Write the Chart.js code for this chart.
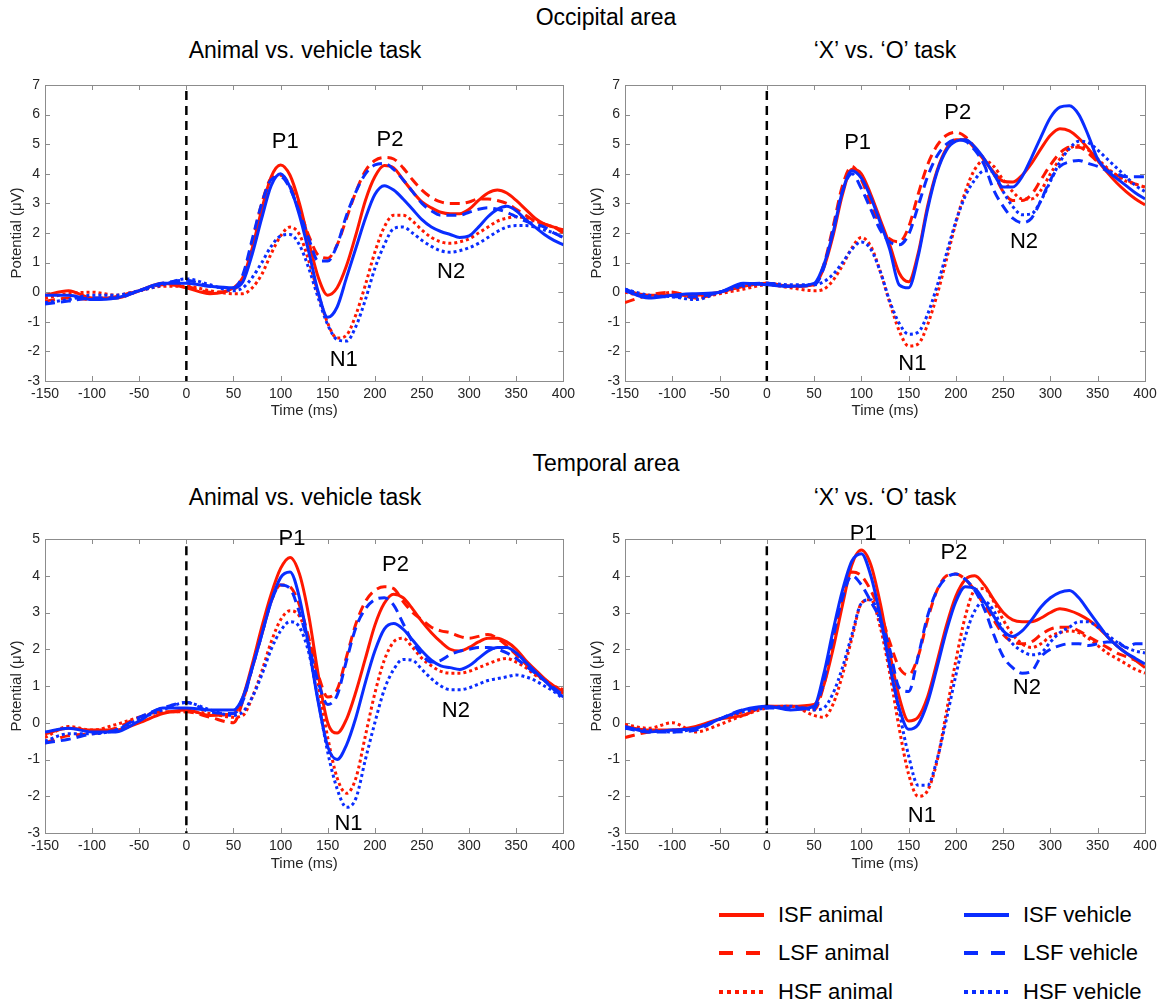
<!DOCTYPE html>
<html>
<head>
<meta charset="utf-8">
<script src="https://cdn.jsdelivr.net/npm/chart.js@4.4.1/dist/chart.umd.min.js"></script>
<style>
  body { margin: 0; width: 1165px; height: 1003px; background: #fff; position: relative; overflow: hidden;
         font-family: "Liberation Sans", Arial, Helvetica, sans-serif; }
  canvas { position: absolute; }
  .title { position: absolute; transform: translate(-50%, -50%); white-space: nowrap; font-size: 23px; color: #000; }
  .leg { position: absolute; height: 30px; display: flex; align-items: center; font-size: 22px; color: #000; white-space: nowrap; }
  .leg svg { margin-right: 14px; }
</style>
</head>
<body>
<div class="title" style="left:606px; top:17px">Occipital area</div>
<div class="title" style="left:305px; top:50px">Animal vs. vehicle task</div>
<div class="title" style="left:885px; top:50px">‘X’ vs. ‘O’ task</div>
<div class="title" style="left:606px; top:463px">Temporal area</div>
<div class="title" style="left:305px; top:497px">Animal vs. vehicle task</div>
<div class="title" style="left:885px; top:497px">‘X’ vs. ‘O’ task</div>

<canvas id="occAnimal" width="580" height="360" style="left:0; top:60px"></canvas>
<canvas id="occXO" width="585" height="360" style="left:580px; top:60px"></canvas>
<canvas id="tmpAnimal" width="580" height="360" style="left:0; top:513px"></canvas>
<canvas id="tmpXO" width="585" height="360" style="left:580px; top:513px"></canvas>
<div id="legend"></div>

<script>
// time samples (ms), shared by every waveform
const times = [-150, -125, -100, -75, -50, -25, 0, 25, 50, 60, 70, 80, 90, 100, 110, 120, 130, 140, 150,
  160, 170, 180, 190, 200, 210, 220, 230, 240, 250, 260, 270, 280, 290, 300, 310, 320, 330, 340, 350,
  360, 370, 380, 390, 400];

const seriesNames = ['ISF animal', 'LSF animal', 'HSF animal', 'ISF vehicle', 'LSF vehicle', 'HSF vehicle'];

// occipital area, animal vs. vehicle task
const occAvIsfAnimal = [-0.1, 0.05, -0.2, -0.2, 0.05, 0.3, 0.15, -0.05, 0.15, 0.5, 1.5, 2.8, 3.9, 4.3, 3.95, 3.0, 1.7, 0.5, -0.1, 0.15, 0.9, 1.95, 3.1, 3.9, 4.28, 4.2, 3.8, 3.4, 3.05, 2.85, 2.7, 2.65, 2.65, 2.8, 3.1, 3.35, 3.45, 3.35, 3.1, 2.8, 2.5, 2.3, 2.2, 2.1];
const occAvLsfAnimal = [-0.3, -0.2, -0.25, -0.15, 0.05, 0.25, 0.2, 0.0, 0.1, 0.5, 1.7, 3.0, 3.85, 3.95, 3.6, 2.8, 1.9, 1.25, 1.15, 1.6, 2.5, 3.4, 4.1, 4.45, 4.55, 4.5, 4.2, 3.8, 3.45, 3.2, 3.05, 3.0, 3.0, 3.05, 3.15, 3.15, 3.1, 3.0, 2.8, 2.6, 2.4, 2.3, 2.2, 2.0];
const occAvHsfAnimal = [-0.2, -0.05, 0.0, -0.1, 0.05, 0.2, 0.2, 0.05, -0.05, -0.05, 0.15, 0.6, 1.3, 1.9, 2.2, 1.95, 1.05, -0.05, -1.05, -1.55, -1.45, -0.75, 0.25, 1.35, 2.2, 2.6, 2.6, 2.4, 2.1, 1.85, 1.7, 1.65, 1.7, 1.8, 2.0, 2.2, 2.4, 2.5, 2.55, 2.5, 2.4, 2.3, 2.2, 2.1];
const occAvIsfVehicle = [-0.1, -0.1, -0.25, -0.2, 0.05, 0.3, 0.3, 0.2, 0.15, 0.35, 1.3, 2.5, 3.6, 4.0, 3.55, 2.6, 1.35, 0.0, -0.85, -0.5, 0.5, 1.5, 2.5, 3.3, 3.6, 3.45, 3.15, 2.8, 2.45, 2.2, 2.05, 1.95, 1.85, 1.9, 2.2, 2.55, 2.8, 2.9, 2.75, 2.45, 2.2, 1.95, 1.75, 1.6];
const occAvLsfVehicle = [-0.4, -0.3, -0.2, -0.2, 0.05, 0.3, 0.4, 0.2, 0.15, 0.6, 1.8, 3.0, 3.8, 3.9, 3.5, 2.7, 1.8, 1.05, 1.05, 1.6, 2.6, 3.4, 4.0, 4.3, 4.35, 4.15, 3.8, 3.4, 3.0, 2.75, 2.6, 2.6, 2.6, 2.7, 2.8, 2.85, 2.8, 2.7, 2.55, 2.4, 2.3, 2.2, 2.0, 1.85];
const occAvHsfVehicle = [-0.35, -0.25, -0.1, -0.1, 0.05, 0.25, 0.45, 0.25, 0.05, 0.15, 0.5, 1.0, 1.55, 1.9, 1.95, 1.6, 0.8, -0.2, -1.1, -1.6, -1.65, -1.15, -0.25, 0.8, 1.6, 2.15, 2.2, 2.0, 1.75, 1.55, 1.4, 1.35, 1.4, 1.5, 1.65, 1.85, 2.05, 2.2, 2.25, 2.25, 2.2, 2.1, 2.0, 1.85];

// occipital area, 'X' vs. 'O' task
const occXoIsfAnimal = [0.05, -0.1, -0.1, -0.1, 0.0, 0.2, 0.3, 0.2, 0.25, 0.8, 1.9, 3.3, 4.15, 4.0, 3.3, 2.45, 1.6, 0.65, 0.35, 1.3, 2.9, 4.1, 4.85, 5.15, 5.15, 4.85, 4.45, 4.05, 3.75, 3.72, 3.95, 4.35, 4.85, 5.3, 5.52, 5.45, 5.2, 4.85, 4.45, 4.05, 3.7, 3.4, 3.15, 2.95];
const occXoLsfAnimal = [-0.35, -0.1, 0.0, -0.2, 0.0, 0.2, 0.3, 0.2, 0.25, 0.9, 2.2, 3.6, 4.25, 3.8, 3.0, 2.25, 1.8, 1.7, 2.2, 3.3, 4.3, 4.95, 5.3, 5.4, 5.25, 4.9, 4.5, 4.0, 3.4, 3.1, 3.1, 3.3, 3.8, 4.3, 4.7, 4.9, 4.9, 4.7, 4.4, 4.15, 3.95, 3.8, 3.65, 3.55];
const occXoHsfAnimal = [0.0, -0.15, 0.0, -0.2, -0.05, 0.1, 0.25, 0.15, 0.05, 0.1, 0.4, 0.9, 1.5, 1.85, 1.55, 0.7, -0.35, -1.3, -1.82, -1.75, -1.1, -0.1, 1.1, 2.35, 3.4, 4.15, 4.45, 4.25, 3.8, 3.4, 3.15, 3.15, 3.45, 4.0, 4.5, 4.85, 4.95, 4.8, 4.5, 4.2, 3.95, 3.75, 3.65, 3.55];
const occXoIsfVehicle = [0.05, -0.2, -0.1, -0.05, 0.0, 0.3, 0.25, 0.2, 0.3, 0.9, 2.0, 3.4, 4.1, 3.85, 3.2, 2.35, 1.45, 0.25, 0.15, 1.2, 2.8, 4.05, 4.8, 5.1, 5.15, 4.9, 4.5, 4.0, 3.55, 3.55, 3.9, 4.55, 5.25, 5.9, 6.25, 6.3, 6.0, 5.3, 4.5, 4.1, 3.85, 3.6, 3.35, 3.15];
const occXoLsfVehicle = [0.1, -0.15, -0.15, -0.15, 0.0, 0.25, 0.3, 0.2, 0.25, 0.8, 2.1, 3.4, 4.0, 3.5, 2.8, 2.1, 1.7, 1.6, 1.95, 2.9, 3.9, 4.6, 5.0, 5.15, 5.1, 4.8, 4.3, 3.45, 2.9, 2.5, 2.35, 2.5, 3.1, 3.8, 4.25, 4.4, 4.45, 4.35, 4.25, 4.1, 4.0, 3.9, 3.9, 3.9];
const occXoHsfVehicle = [0.1, -0.1, -0.15, -0.25, 0.0, 0.2, 0.3, 0.25, 0.25, 0.35, 0.6, 1.0, 1.45, 1.7, 1.45, 0.7, -0.3, -1.05, -1.42, -1.35, -0.75, 0.2, 1.3, 2.4, 3.25, 3.8, 4.1, 4.05, 3.4, 2.9, 2.62, 2.65, 3.1, 3.75, 4.4, 4.85, 5.1, 5.05, 4.8, 4.5, 4.2, 3.9, 3.6, 3.4];

// temporal area, animal vs. vehicle task
const tmpAvIsfAnimal = [-0.3, -0.15, -0.2, -0.2, 0.0, 0.25, 0.35, 0.2, 0.25, 0.7, 1.6, 2.6, 3.5, 4.2, 4.5, 4.05, 2.9, 1.3, 0.0, -0.28, 0.1, 0.85, 1.75, 2.65, 3.25, 3.5, 3.4, 3.1, 2.75, 2.45, 2.2, 2.0, 1.95, 2.05, 2.2, 2.3, 2.3, 2.2, 2.0, 1.7, 1.45, 1.2, 1.0, 0.85];
const tmpAvLsfAnimal = [-0.55, -0.35, -0.3, -0.15, 0.15, 0.3, 0.3, 0.15, 0.0, 0.6, 1.5, 2.4, 3.3, 3.75, 3.7, 3.2, 2.3, 1.3, 0.7, 0.9, 1.8, 2.7, 3.3, 3.6, 3.7, 3.65, 3.3, 3.0, 2.8, 2.6, 2.5, 2.45, 2.35, 2.3, 2.35, 2.4, 2.3, 2.1, 1.85, 1.6, 1.35, 1.15, 0.95, 0.8];
const tmpAvHsfAnimal = [-0.4, -0.1, -0.2, -0.05, 0.15, 0.3, 0.3, 0.25, 0.15, 0.2, 0.7, 1.4, 2.2, 2.8, 3.05, 2.9, 2.2, 1.0, -0.4, -1.5, -1.92, -1.5, -0.35, 0.8, 1.7, 2.2, 2.3, 2.05, 1.75, 1.55, 1.4, 1.35, 1.35, 1.4, 1.5, 1.6, 1.7, 1.75, 1.65, 1.5, 1.3, 1.15, 1.0, 0.9];
const tmpAvIsfVehicle = [-0.25, -0.15, -0.25, -0.25, 0.05, 0.4, 0.4, 0.35, 0.35, 0.7, 1.5, 2.4, 3.3, 3.95, 4.1, 3.4, 2.05, 0.55, -0.65, -1.0, -0.6, 0.15, 1.1, 1.95, 2.55, 2.7, 2.55, 2.25, 1.95, 1.7, 1.55, 1.5, 1.45, 1.55, 1.75, 1.95, 2.05, 2.05, 1.9, 1.65, 1.4, 1.15, 0.9, 0.7];
const tmpAvLsfVehicle = [-0.55, -0.45, -0.3, -0.2, 0.15, 0.4, 0.55, 0.3, 0.25, 0.6, 1.5, 2.4, 3.3, 3.75, 3.65, 3.0, 2.1, 1.1, 0.5, 0.75, 1.7, 2.6, 3.1, 3.35, 3.4, 3.2, 2.7, 2.2, 1.85, 1.65, 1.7, 1.85, 1.95, 2.0, 2.05, 2.05, 2.0, 1.9, 1.75, 1.55, 1.35, 1.15, 0.95, 0.75];
const tmpAvHsfVehicle = [-0.5, -0.3, -0.3, -0.2, 0.1, 0.35, 0.55, 0.35, 0.2, 0.3, 0.7, 1.3, 2.0, 2.5, 2.75, 2.6, 1.9, 0.6, -0.8, -1.8, -2.3, -2.05, -1.0, 0.0, 0.9, 1.45, 1.72, 1.7, 1.45, 1.2, 1.0, 0.9, 0.9, 0.95, 1.05, 1.15, 1.2, 1.25, 1.3, 1.25, 1.15, 1.0, 0.85, 0.65];

// temporal area, 'X' vs. 'O' task
const tmpXoIsfAnimal = [-0.1, -0.2, -0.2, -0.1, 0.1, 0.2, 0.45, 0.45, 0.5, 1.0, 2.0, 3.2, 4.3, 4.7, 4.3, 3.25, 1.9, 0.7, 0.05, 0.15, 0.7, 1.65, 2.65, 3.45, 3.9, 4.0, 3.75, 3.35, 3.0, 2.8, 2.75, 2.75, 2.85, 3.0, 3.1, 3.05, 2.95, 2.8, 2.6, 2.35, 2.1, 1.9, 1.7, 1.5];
const tmpXoLsfAnimal = [-0.4, -0.25, -0.2, -0.15, 0.1, 0.3, 0.45, 0.4, 0.35, 1.0, 2.2, 3.4, 4.1, 4.0, 3.6, 3.0, 2.2, 1.5, 1.3, 1.8, 2.8, 3.6, 4.0, 4.05, 3.9, 3.6, 3.2, 2.8, 2.4, 2.2, 2.15, 2.2, 2.4, 2.55, 2.6, 2.6, 2.5, 2.35, 2.2, 2.05, 1.9, 1.8, 1.7, 1.6];
const tmpXoHsfAnimal = [-0.05, -0.15, 0.0, -0.25, -0.05, 0.2, 0.4, 0.45, 0.2, 0.15, 0.5, 1.3, 2.3, 3.25, 3.35, 2.6, 1.35, -0.15, -1.4, -2.0, -1.85, -1.05, 0.3, 1.7, 2.9, 3.6, 3.65, 3.3, 2.8, 2.4, 2.15, 2.05, 2.15, 2.35, 2.45, 2.5, 2.45, 2.3, 2.1, 1.9, 1.75, 1.6, 1.45, 1.35];
const tmpXoIsfVehicle = [-0.1, -0.25, -0.2, -0.15, 0.1, 0.35, 0.45, 0.35, 0.45, 1.3, 2.5, 3.6, 4.4, 4.6, 4.0, 2.9, 1.55, 0.4, -0.18, -0.05, 0.55, 1.5, 2.5, 3.3, 3.7, 3.65, 3.3, 2.9, 2.5, 2.35, 2.5, 2.8, 3.15, 3.4, 3.55, 3.6, 3.4, 3.05, 2.7, 2.35, 2.1, 1.9, 1.75, 1.6];
const tmpXoLsfVehicle = [-0.15, -0.25, -0.25, -0.2, 0.1, 0.35, 0.4, 0.4, 0.4, 1.1, 2.3, 3.4, 4.0, 3.75, 3.3, 2.8, 2.0, 0.95, 0.85, 1.8, 2.9, 3.6, 3.95, 4.05, 3.9, 3.6, 3.1, 2.4, 1.8, 1.5, 1.35, 1.4, 1.8, 2.0, 2.1, 2.15, 2.15, 2.1, 2.15, 2.2, 2.2, 2.05, 2.15, 2.15];
const tmpXoHsfVehicle = [-0.15, -0.2, -0.25, -0.15, 0.1, 0.3, 0.4, 0.45, 0.35, 0.4, 0.8, 1.5, 2.4, 3.25, 3.35, 2.75, 1.6, 0.3, -0.9, -1.7, -1.7, -1.0, 0.1, 1.3, 2.35, 3.05, 3.3, 3.05, 2.5, 2.15, 1.95, 1.85, 1.9, 2.2, 2.45, 2.6, 2.75, 2.75, 2.6, 2.4, 2.2, 2.05, 1.95, 1.9];

// axis limits
const xRange = [-150, 400];
const occYRange = [-3, 7];
const tmpYRange = [-3, 5];

// stimulus onset marker (x = 0), drawn from just below the top of the axes
const occOnset = [6.8, -3];
const tmpOnset = [4.8, -3];

// component names and where they sit (ms, µV)
const occAvPeaks = [['P1', 105, 5.07], ['P2', 216, 5.16], ['N1', 167, -2.28], ['N2', 281, 0.7]];
const occXoPeaks = [['P1', 96, 5.05], ['P2', 202, 6.06], ['N1', 154, -2.41], ['N2', 272, 1.71]];
const tmpAvPeaks = [['P1', 112, 5.0], ['P2', 222, 4.29], ['N1', 172, -2.76], ['N2', 286, 0.31]];
const tmpXoPeaks = [['P1', 102, 5.14], ['P2', 198, 4.63], ['N1', 164, -2.53], ['N2', 275, 0.95]];

const RED = 'rgb(255, 24, 0)';
const BLUE = 'rgb(10, 45, 255)';
const lineStyles = [
  { color: RED, dash: [] }, { color: RED, dash: [10, 6] }, { color: RED, dash: [3, 3] },
  { color: BLUE, dash: [] }, { color: BLUE, dash: [10, 6] }, { color: BLUE, dash: [3, 3] }
];
const FONT = '"Liberation Sans", Arial, Helvetica, sans-serif';
const INK = '#262626';
const FRAME = '#8c8c8c';

// box around the axes with inward tick marks on all four sides
const boxAxes = {
  id: 'boxAxes',
  beforeDatasetsDraw(chart) {
    const { ctx, chartArea: a, scales: { x, y } } = chart;
    ctx.save();
    ctx.strokeStyle = FRAME;
    ctx.lineWidth = 1;
    ctx.beginPath();
    x.ticks.forEach(t => {
      const px = Math.round(x.getPixelForValue(t.value)) + 0.5;
      ctx.moveTo(px, a.bottom); ctx.lineTo(px, a.bottom - 5);
      ctx.moveTo(px, a.top); ctx.lineTo(px, a.top + 5);
    });
    y.ticks.forEach(t => {
      const py = Math.round(y.getPixelForValue(t.value)) + 0.5;
      ctx.moveTo(a.left, py); ctx.lineTo(a.left + 5, py);
      ctx.moveTo(a.right, py); ctx.lineTo(a.right - 5, py);
    });
    ctx.stroke();
    ctx.strokeRect(Math.round(a.left) + 0.5, Math.round(a.top) + 0.5,
      Math.round(a.right - a.left), Math.round(a.bottom - a.top));
    ctx.restore();
  }
};

// P1 / N1 / P2 / N2 labels
const peakLabels = {
  id: 'peakLabels',
  afterDraw(chart, args, opts) {
    const { ctx, scales: { x, y } } = chart;
    ctx.save();
    ctx.font = '22px ' + FONT;
    ctx.fillStyle = '#000';
    ctx.textAlign = 'center';
    ctx.textBaseline = 'middle';
    (opts.items || []).forEach(([txt, t, v]) => {
      ctx.fillText(txt, x.getPixelForValue(t), y.getPixelForValue(v));
    });
    ctx.restore();
  }
};

function toPoints(vals) {
  return times.map((t, i) => ({ x: t, y: vals[i] }));
}

function makePanel(id, series, yRange, onset, peaks, padTop, padRight, xAxisHeight) {
  const datasets = [{
    data: [{ x: 0, y: onset[0] }, { x: 0, y: onset[1] }],
    borderColor: '#000', borderWidth: 2.5, borderDash: [9, 6], order: 0
  }];
  series.forEach((vals, k) => {
    datasets.push({
      label: seriesNames[k],
      data: toPoints(vals),
      borderColor: lineStyles[k].color,
      borderDash: lineStyles[k].dash,
      borderWidth: 3,
      cubicInterpolationMode: 'monotone',
      order: 6 - k
    });
  });

  return new Chart(document.getElementById(id), {
    type: 'line',
    data: { datasets },
    plugins: [boxAxes, peakLabels],
    options: {
      responsive: false,
      animation: false,
      devicePixelRatio: 1,
      events: [],
      layout: { padding: { top: padTop, right: padRight, left: 0, bottom: 0 } },
      elements: { point: { radius: 0 }, line: { borderCapStyle: 'butt' } },
      scales: {
        x: {
          type: 'linear', min: xRange[0], max: xRange[1],
          grid: { display: false, drawTicks: false },
          border: { display: false },
          ticks: { stepSize: 50, color: INK, font: { family: FONT, size: 14 }, padding: 5, maxRotation: 0 },
          title: { display: true, text: 'Time (ms)', color: INK, font: { family: FONT, size: 15 }, padding: 0 },
          afterFit(scale) { scale.height = xAxisHeight; }
        },
        y: {
          type: 'linear', min: yRange[0], max: yRange[1],
          grid: { display: false, drawTicks: false },
          border: { display: false },
          ticks: { stepSize: 1, color: INK, font: { family: FONT, size: 14 }, padding: 5 },
          title: { display: true, text: 'Potential (μV)', color: INK, font: { family: FONT, size: 15 }, padding: { top: 8, bottom: 0 } },
          afterFit(scale) { scale.width = 45; }
        }
      },
      plugins: {
        legend: { display: false },
        tooltip: { enabled: false },
        peakLabels: { items: peaks }
      }
    }
  });
}

makePanel('occAnimal',
  [occAvIsfAnimal, occAvLsfAnimal, occAvHsfAnimal, occAvIsfVehicle, occAvLsfVehicle, occAvHsfVehicle],
  occYRange, occOnset, occAvPeaks, 25, 16, 39);
makePanel('occXO',
  [occXoIsfAnimal, occXoLsfAnimal, occXoHsfAnimal, occXoIsfVehicle, occXoLsfVehicle, occXoHsfVehicle],
  occYRange, occOnset, occXoPeaks, 25, 20, 39);
makePanel('tmpAnimal',
  [tmpAvIsfAnimal, tmpAvLsfAnimal, tmpAvHsfAnimal, tmpAvIsfVehicle, tmpAvLsfVehicle, tmpAvHsfVehicle],
  tmpYRange, tmpOnset, tmpAvPeaks, 26, 16, 40);
makePanel('tmpXO',
  [tmpXoIsfAnimal, tmpXoLsfAnimal, tmpXoHsfAnimal, tmpXoIsfVehicle, tmpXoLsfVehicle, tmpXoHsfVehicle],
  tmpYRange, tmpOnset, tmpXoPeaks, 26, 20, 40);

// legend: two columns, animal on the left, vehicle on the right
const legend = document.getElementById('legend');
const legendDash = ['', '14 13', '4 4'];
seriesNames.forEach((name, k) => {
  const col = Math.floor(k / 3), row = k % 3;
  const el = document.createElement('div');
  el.className = 'leg';
  el.style.left = (719 + col * 245) + 'px';
  el.style.top = ([915, 953, 992][row] - 15) + 'px';
  el.innerHTML = '<svg width="45" height="6"><line x1="0" y1="3" x2="45" y2="3" stroke="' +
    lineStyles[k].color + '" stroke-width="4" stroke-dasharray="' + legendDash[row] + '"/></svg>' + name;
  legend.appendChild(el);
});
</script>
</body>
</html>
